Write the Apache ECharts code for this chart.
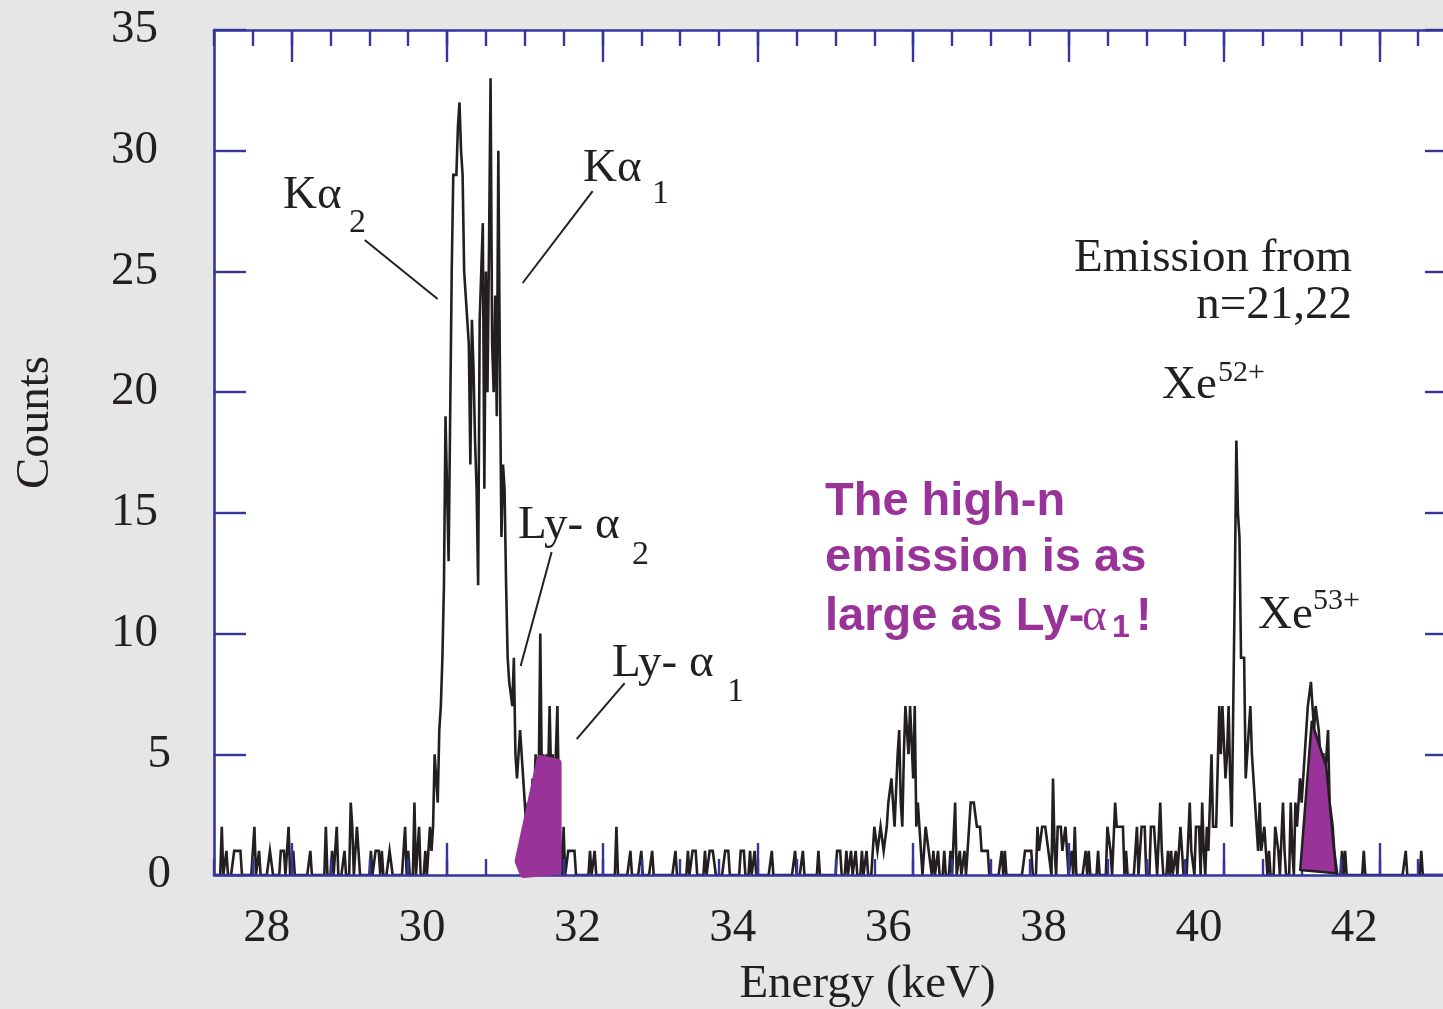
<!DOCTYPE html>
<html>
<head>
<meta charset="utf-8">
<script src="https://cdn.jsdelivr.net/npm/echarts@6/dist/echarts.min.js"></script>
<style>
  html, body { margin: 0; padding: 0; background: #e6e6e6; }
  #chart { width: 1443px; height: 1009px; }
</style>
</head>
<body>
<div id="chart"></div>
<script>
// ---- spectrum: counts per 0.02 keV channel (channels not listed hold 0 counts) ----
const CHANNEL_WIDTH = 0.02;
const E_START = 27.0;
const E_END = 43.0;

// isolated background counts below the K lines, [keV, counts]
const lowHits = [
  [27.10,2],[27.16,1],[27.26,1],[27.28,1],[27.30,1],[27.32,1],[27.34,1],[27.52,2],[27.58,1],
  [27.72,1],[27.74,1],[27.86,1],[27.88,1],[27.90,1],[27.96,2],[28.02,1],[28.24,1],[28.44,2],
  [28.52,1],[28.58,2],[28.68,1],[28.76,3],[28.78,2],[28.84,2],[28.86,1],[29.02,1],[29.08,1],
  [29.10,1],[29.12,1],[29.16,1],[29.26,1],[29.28,1],[29.44,1],[29.46,2],[29.50,1],[29.58,3],
  [29.64,2],[29.72,1]
];

// K-alpha / Ly-alpha block, consecutive channels starting at 29.78 keV
const kBlockStart = 29.78;
const kBlockCounts = [
  2,1,2,5,5,3,6,7,9,12,
  19,16,13,19,25,29,29,29,31,32,
  30,29,25,24,23,22,17,23,21,18,
  16,12,23,25,27,16,25,20,26,33,
  22,20,24,19,30,21,14,17,16,12,
  9,8,8,7,9,5,4,4,6,6,
  4,3,2,3,1,2,4,3,5,3,
  4,10,4,5,3,5,4,7,4,5,
  3,5,7,3,1,0,2
];

// background between Ly-alpha and the n=21,22 group
const midHits = [
  [31.56,1],[31.58,1],[31.60,1],[31.62,1],[31.64,1],[31.84,1],[31.90,1],[32.18,2],[32.36,1],
  [32.50,1],[32.64,1],[32.94,1],[33.10,1],[33.16,1],[33.18,1],[33.20,1],[33.32,1],[33.38,1],
  [33.40,1],[33.42,1],[33.44,1],[33.58,1],[33.60,1],[33.62,1],[33.78,1],[33.80,1],[33.82,1],
  [33.90,1],[33.96,1],[34.18,1],[34.48,1],[34.58,1],[34.78,1],[35.02,1],[35.04,1],[35.06,1],
  [35.14,1],[35.20,1],[35.26,1],[35.34,1],[35.40,1]
];

// high-n emission group, consecutive channels starting at 35.50 keV
const highNStart = 35.50;
const highNCounts = [
  2,2,1,1,2,2,1,1,2,3,
  3,4,3,2,2,5,6,3,2,5,
  7,7,5,7,7,4,7,2,3,2,
  1,0,1,2,2,1,1
];

// background between the high-n group and the Xe lines
const upperHits = [
  [36.26,1],[36.32,1],[36.40,1],[36.48,1],[36.54,3],[36.60,1],[36.66,1],[36.70,1],[36.72,2],
  [36.74,3],[36.76,3],[36.78,3],[36.80,3],[36.82,2],[36.84,2],[36.86,2],[36.88,1],[36.90,1],
  [36.92,1],[36.94,1],[36.96,1],[37.14,1],[37.18,1],[37.44,1],[37.46,1],[37.48,1],[37.50,1],
  [37.52,1],[37.60,2],[37.62,1],[37.64,1],[37.66,2],[37.68,2],[37.70,2],[37.72,2],[37.74,1],
  [37.76,1],[37.80,4],[37.82,1],[37.86,2],[37.88,2],[37.90,2],[37.92,1],[37.94,1],[37.96,2],
  [37.98,1],[38.04,1],[38.08,2],[38.22,1],[38.26,1],[38.38,1],[38.50,2],[38.52,2],[38.54,1],
  [38.60,3],[38.62,2],[38.64,2],[38.66,2],[38.68,2],[38.70,2],[38.74,1],[38.88,2],[38.94,2],
  [38.96,2],[38.98,2],[39.06,2],[39.08,2],[39.10,2],[39.12,1],[39.18,3],[39.20,1],[39.28,1],
  [39.32,1],[39.38,1],[39.44,2],[39.46,1],[39.56,3],[39.58,1],[39.60,1],[39.64,2],[39.66,2],
  [39.68,2],[39.72,3],[39.74,1],[39.78,2],[39.80,1],[39.82,3]
];

// Xe52+ / Xe53+ block, consecutive channels starting at 39.84 keV
const xeStart = 39.84;
const xeCounts = [
  5,2,2,2,2,7,5,7,7,4,
  5,7,4,2,7,12,18,15,14,9,
  9,9,4,5,6,7,5,4,3,2,
  1,3,1,1,2,1,0,1,0,0,
  0,2,2,1,0,0,3,1,0,0,
  0,3,1,0,3,2,2,4,3,3,
  5,6,7,7,8,7,6,7,7,6,
  5,5,5,4,5,6,3,3,2,1,
  1
];

const tailHits = [[41.52,1],[41.56,1],[41.80,1],[42.34,1],[42.54,1]];

// axis ticks
const xMajorTicks = [28, 30, 32, 34, 36, 38, 40, 42];

// shaded regions marking the high-n emission, [keV, counts] corners
const lyShade = [[30.921,0.58],[31.205,4.80],[31.423,4.64],[31.423,0.17],[30.986,0.04]];
const xeShade = [[40.982,0.21],[41.130,6.35],[41.317,4.49],[41.445,0.07]];

// leader lines from the line labels to the peaks, [keV, counts] end points
const leaders = [
  [[28.940,26.30],[29.879,23.86]],
  [[31.874,28.33],[30.973,24.52]],
  [[31.346,13.38],[30.947,8.66]],
  [[32.286,7.95],[31.668,5.63]]
];

// ---- build the channel table ----
const nChan = Math.round((E_END - E_START) / CHANNEL_WIDTH);
const counts = new Array(nChan + 1).fill(0);
const chanOf = e => Math.round((e - E_START) / CHANNEL_WIDTH);
[lowHits, midHits, upperHits, tailHits].forEach(list => list.forEach(([e, c]) => { counts[chanOf(e)] = c; }));
[[kBlockStart, kBlockCounts], [highNStart, highNCounts], [xeStart, xeCounts]].forEach(([start, arr]) => {
  const i0 = chanOf(start);
  arr.forEach((c, k) => { counts[i0 + k] = c; });
});
const spectrum = counts.map((c, i) => [+(E_START + i * CHANNEL_WIDTH).toFixed(2), c]);

// ---- styling ----
const FRAME = '#35359a';
const INK = '#231f20';
const PURPLE = '#993399';
const SERIF = '"Liberation Serif", "Times New Roman", serif';
const SANS = '"Liberation Sans", Arial, sans-serif';

const chart = echarts.init(document.getElementById('chart'), null, { renderer: 'canvas' });

const frameLine = { show: true, onZero: false, lineStyle: { color: FRAME, width: 2.6 } };
const noLine = { show: false, onZero: false };
const baseX = { type: 'value', min: E_START, max: E_END, splitLine: { show: false }, z: 5 };
const minorTick = { show: true, inside: true, length: 16, lineStyle: { color: FRAME, width: 2.4 } };
const majorTick = { show: true, inside: true, length: 32, customValues: xMajorTicks, lineStyle: { color: FRAME, width: 2.4 } };

const shades = [
  { pts: lyShade, fill: PURPLE, stroke: PURPLE, width: 8 },
  { pts: xeShade, fill: PURPLE, stroke: INK, width: 2.5 }
];

function txt(text, x, y, size, opts) {
  opts = opts || {};
  return {
    type: 'text', x: x, y: y, z: 100,
    style: {
      text: text,
      fill: opts.fill || INK,
      fontSize: size,
      fontFamily: opts.family || SERIF,
      fontWeight: opts.weight || 'normal',
      align: opts.align || 'left',
      verticalAlign: 'middle'
    }
  };
}
const bold = { fill: PURPLE, family: SANS, weight: 'bold' };

chart.setOption({
  animation: false,
  backgroundColor: '#e6e6e6',
  grid: {
    left: 214, top: 30, right: -14, bottom: 134,
    show: true, backgroundColor: '#ffffff', borderWidth: 0,
    containLabel: false, outerBoundsMode: 'none'
  },
  xAxis: [
    Object.assign({}, baseX, {
      position: 'bottom', interval: 0.5,
      name: 'Energy (keV)', nameLocation: 'middle', nameGap: 86,
      nameTextStyle: { fontFamily: SERIF, fontSize: 47, color: INK, padding: [0, 0, 0, 64] },
      axisLine: frameLine,
      axisTick: minorTick,
      axisLabel: {
        show: true, customValues: xMajorTicks, margin: 30,
        fontFamily: SERIF, fontSize: 47, color: INK, padding: [0, 50, 0, 0]
      }
    }),
    Object.assign({}, baseX, {
      position: 'bottom',
      axisLine: noLine,
      axisTick: majorTick,
      axisLabel: { show: false }
    }),
    Object.assign({}, baseX, {
      position: 'top', interval: 0.5,
      axisLine: frameLine,
      axisTick: minorTick,
      axisLabel: { show: false }
    }),
    Object.assign({}, baseX, {
      position: 'top',
      axisLine: noLine,
      axisTick: majorTick,
      axisLabel: { show: false }
    })
  ],
  yAxis: [
    {
      type: 'value', min: 0, max: 35, interval: 5, position: 'left', z: 5,
      name: 'Counts', nameLocation: 'middle', nameGap: 155,
      nameTextStyle: { fontFamily: SERIF, fontSize: 47, color: INK, padding: [0, 0, 0, 60] },
      splitLine: { show: false },
      axisLine: frameLine,
      axisTick: { show: true, inside: true, length: 32, lineStyle: { color: FRAME, width: 2.4 } },
      axisLabel: {
        margin: 43, fontFamily: SERIF, fontSize: 47, color: INK,
        formatter: v => (v >= 10 ? '{wide|' + v + '}' : '{narrow|' + v + '}'),
        rich: { wide: { padding: [0, 13, 0, 0] }, narrow: {} }
      }
    },
    {
      type: 'value', min: 0, max: 35, interval: 5, position: 'right', z: 5,
      splitLine: { show: false },
      axisLine: frameLine,
      axisTick: { show: true, inside: true, length: 32, lineStyle: { color: FRAME, width: 2.4 } },
      axisLabel: { show: false }
    }
  ],
  series: [
    {
      type: 'line', name: 'Counts', xAxisIndex: 0, yAxisIndex: 0, z: 2,
      data: spectrum, showSymbol: false, symbol: 'none',
      lineStyle: { color: INK, width: 2.6, join: 'miter' },
      emphasis: { disabled: true },
      markLine: {
        silent: true, symbol: ['none', 'none'], animation: false,
        label: { show: false },
        lineStyle: { color: INK, width: 2, type: 'solid' },
        emphasis: { disabled: true },
        data: leaders.map(l => [{ coord: l[0] }, { coord: l[1] }])
      }
    },
    {
      type: 'custom', xAxisIndex: 0, yAxisIndex: 0, z: 6, silent: true, clip: false,
      data: shades.map(s => s.pts[1]),
      renderItem: (params, api) => {
        const s = shades[params.dataIndex];
        return {
          type: 'polygon',
          shape: { points: s.pts.map(p => api.coord(p)) },
          style: { fill: s.fill, stroke: s.stroke, lineWidth: s.width, lineJoin: 'round' }
        };
      }
    }
  ],
  graphic: {
    elements: [
      txt('K\u03b1', 283, 195.7, 47),
      txt('2', 349, 222.6, 34),
      txt('K\u03b1', 583, 168.7, 47),
      txt('1', 652, 193.6, 34),
      txt('Ly- \u03b1', 518, 525.7, 47),
      txt('2', 632, 554.6, 34),
      txt('Ly- \u03b1', 612, 663.7, 47),
      txt('1', 727, 691.6, 34),
      txt('Emission from', 1352, 258.7, 47, { align: 'right' }),
      txt('n=21,22', 1352, 305.7, 47, { align: 'right' }),
      txt('Xe', 1162, 385.7, 47),
      txt('52+', 1218, 372.8, 30),
      txt('Xe', 1258, 615.7, 47),
      txt('53+', 1313, 600.8, 30),
      txt('The high-n', 825, 502.4, 47, bold),
      txt('emission is as', 825, 558.4, 47, bold),
      txt('large as Ly-', 825, 617.4, 47, bold),
      txt('\u03b1', 1082, 617.7, 47, { fill: PURPLE }),
      txt('1', 1112, 628, 32, bold),
      txt('!', 1136, 617.4, 47, bold)
    ]
  }
});
</script>
</body>
</html>
